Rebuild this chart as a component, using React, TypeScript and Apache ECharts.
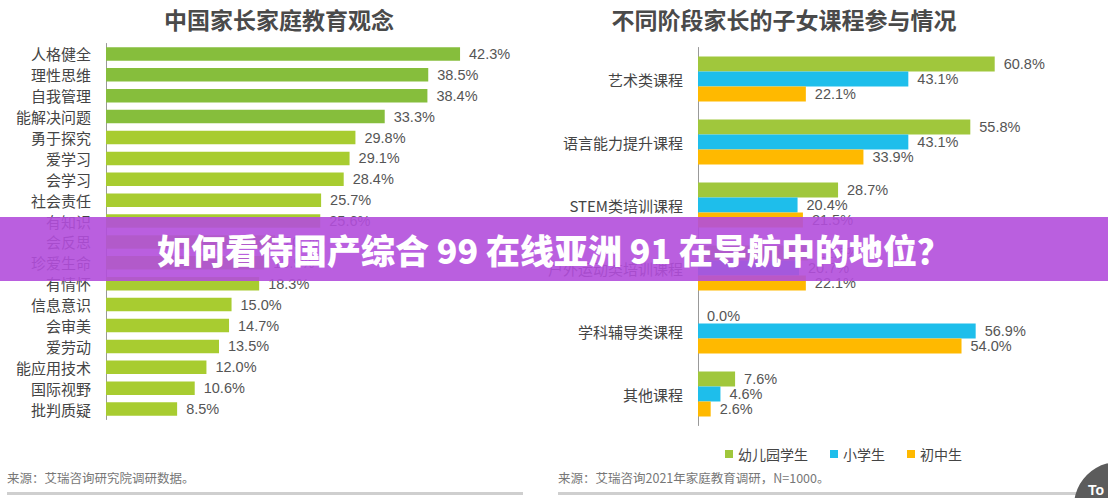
import React, { useEffect, useRef } from "react";
import * as echarts from "echarts";

const leftTitle = "中国家长家庭教育观念";
const rightTitle = "不同阶段家长的子女课程参与情况";
const leftCategories = [
  "人格健全", "理性思维", "自我管理", "能解决问题", "勇于探究", "爱学习", "会学习", "社会责任", "有知识",
  "会反思", "珍爱生命", "有情怀", "信息意识", "会审美", "爱劳动", "能应用技术", "国际视野", "批判质疑",
];
const leftValues = [42.3, 38.5, 38.4, 33.3, 29.8, 29.1, 28.4, 25.7, 25.6, 20.2, 18.9, 18.3, 15.0, 14.7, 13.5, 12.0, 10.6, 8.5];

const rightCategories = ["艺术类课程", "语言能力提升课程", "STEM类培训课程", "户外运动类培训课程", "学科辅导类课程", "其他课程"];
const seriesNames = ["幼儿园学生", "小学生", "初中生"];
const kindergarten = [60.8, 55.8, 28.7, 22.6, 0.0, 7.6];
const primary = [43.1, 43.1, 20.4, 20.7, 56.9, 4.6];
const juniorHigh = [22.1, 33.9, 21.5, 22.1, 54.0, 2.6];

const leftSource = "来源：艾瑞咨询研究院调研数据。";
const rightSource = "来源：艾瑞咨询2021年家庭教育调研，N=1000。";
const bannerText = "如何看待国产综合 99 在线亚洲 91 在导航中的地位？";

const FONT = "'Liberation Sans', Arial, 'Noto Sans CJK SC', sans-serif";
const CJK = "'Noto Sans CJK SC', sans-serif";

export default function App() {
  const ref = useRef<HTMLDivElement>(null);
  useEffect(() => {
    if (!ref.current) return;
    const chart = echarts.init(ref.current, undefined, { renderer: "svg" });
    const fmt = (p: any) => `${Number(p.value).toFixed(1)}%`;
    const rightColors = ["#A0C73C", "#1EBEEB", "#FFB900"];
    const rightData = [kindergarten, primary, juniorHigh];
    const valueLabel = {
      show: true,
      position: "right",
      distance: 9,
      fontSize: 14.5,
      color: "#555",
      fontFamily: FONT,
      formatter: fmt,
    };
    const catAxisCommon = {
      type: "category",
      inverse: true,
      axisLine: { show: true, lineStyle: { color: "#999", width: 1 } },
      axisTick: { show: false },
      axisLabel: { fontSize: 15, color: "#444", margin: 15, fontFamily: CJK },
    };
    chart.setOption({
      animation: false,
      backgroundColor: "#ffffff",
      textStyle: { fontFamily: FONT },
      grid: [
        { left: 106, top: 43.5, width: 418.5, height: 376 },
        { left: 698, top: 47.5, width: 390.4, height: 378 },
      ],
      xAxis: [
        { type: "value", gridIndex: 0, min: 0, max: 50, show: false },
        { type: "value", gridIndex: 1, min: 0, max: 80, show: false },
      ],
      yAxis: [
        { ...catAxisCommon, gridIndex: 0, data: leftCategories },
        { ...catAxisCommon, gridIndex: 1, data: rightCategories },
      ],
      legend: {
        data: seriesNames,
        left: 720,
        top: 442,
        icon: "rect",
        itemWidth: 8,
        itemHeight: 8,
        itemGap: 22,
        textStyle: { fontSize: 14, color: "#444", fontFamily: CJK },
      },
      series: [
        {
          type: "bar",
          name: "家庭教育观念",
          xAxisIndex: 0,
          yAxisIndex: 0,
          barWidth: 13.5,
          data: leftValues.map((v, i) => ({
            value: v,
            itemStyle: { color: i < 4 ? "#86BE3C" : "#A8CC30" },
          })),
          label: valueLabel,
        },
        ...seriesNames.map((name, k) => ({
          type: "bar",
          name,
          xAxisIndex: 1,
          yAxisIndex: 1,
          barWidth: 15,
          barGap: "0%",
          itemStyle: { color: rightColors[k] },
          data: rightData[k],
          label: valueLabel,
        })),
      ],
      graphic: [
        {
          type: "text", x: 279, y: 19, z: 50,
          style: { text: leftTitle, textAlign: "center", textVerticalAlign: "middle", fontSize: 23, fontWeight: "bold", fill: "#4a4a4a", fontFamily: CJK },
        },
        {
          type: "text", x: 784, y: 19, z: 50,
          style: { text: rightTitle, textAlign: "center", textVerticalAlign: "middle", fontSize: 23, fontWeight: "bold", fill: "#4a4a4a", fontFamily: CJK },
        },
        {
          type: "text", x: 7, y: 477, z: 50,
          style: { text: leftSource, textAlign: "left", textVerticalAlign: "middle", fontSize: 12.5, fill: "#777", fontFamily: CJK },
        },
        {
          type: "text", x: 558, y: 477, z: 50,
          style: { text: rightSource, textAlign: "left", textVerticalAlign: "middle", fontSize: 12.5, fill: "#777", fontFamily: CJK },
        },
        { type: "rect", z: 50, shape: { x: 7, y: 492, width: 516, height: 3 }, style: { fill: "#cfcfcf" } },
        { type: "rect", z: 50, shape: { x: 558, y: 492, width: 540, height: 3 }, style: { fill: "#cfcfcf" } },
        { type: "circle", z: 60, shape: { cx: 1118, cy: 506, r: 44 }, style: { fill: "#5c5c5c" } },
        {
          type: "text", x: 1088, y: 490, z: 61,
          style: { text: "To", textAlign: "left", textVerticalAlign: "middle", fontSize: 14, fontWeight: "bold", fill: "#fff", fontFamily: FONT },
        },
        { type: "rect", z: 100, shape: { x: 0, y: 217, width: 1108, height: 64 }, style: { fill: "rgba(178,78,220,0.9)" } },
        {
          type: "text", x: 554, y: 249, z: 101,
          style: { text: bannerText, textAlign: "center", textVerticalAlign: "middle", fontSize: 34, fontWeight: 900, fill: "#ffffff", fontFamily: CJK },
        },
      ],
    });
    return () => chart.dispose();
  }, []);
  return <div ref={ref} style={{ position: "absolute", left: 0, top: 0, width: 1108, height: 498 }} />;
}
